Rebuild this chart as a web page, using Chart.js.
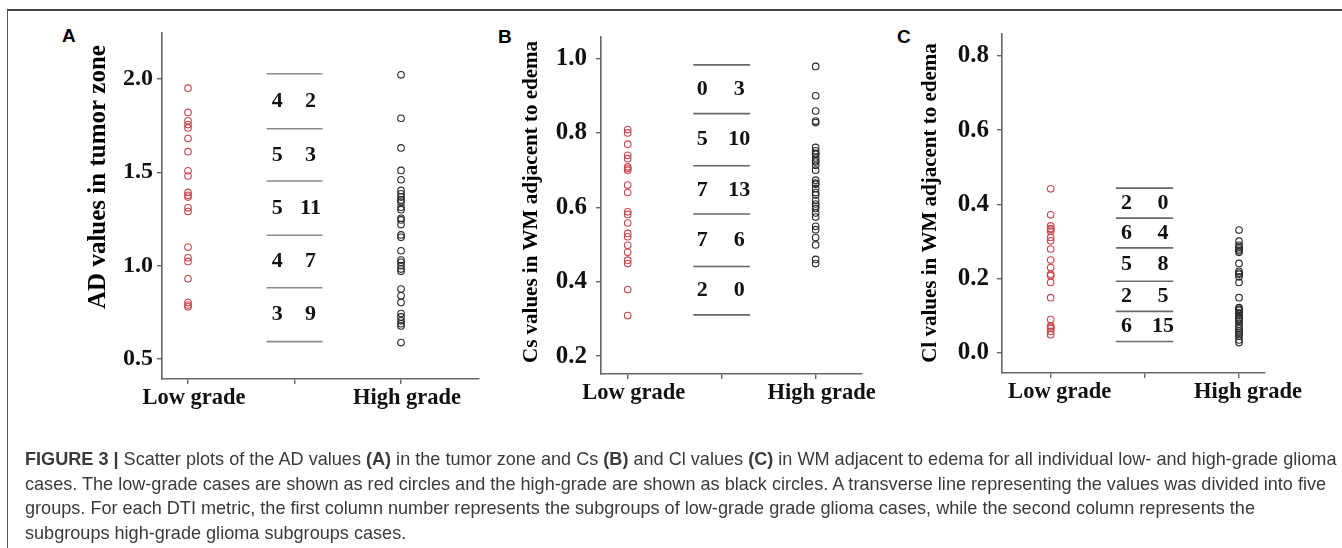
<!DOCTYPE html>
<html><head><meta charset="utf-8">
<script src="https://cdn.jsdelivr.net/npm/chart.js@4.4.1/dist/chart.umd.min.js"></script>
<style>
html,body{margin:0;padding:0;background:#fff;}
body{width:1342px;height:548px;position:relative;overflow:hidden;font-family:'Liberation Sans',Arial,sans-serif;}
canvas{position:absolute;left:0;top:0;pointer-events:none;}
#frame{position:absolute;left:7px;top:9px;width:1400px;height:600px;border-left:1.5px solid #555;border-top:2px solid #444;}
.lbl{position:absolute;font:bold 19px 'Liberation Sans',Arial,sans-serif;line-height:19px;color:#000;}
#caption{position:absolute;left:25px;top:447px;color:#3a3a3a;white-space:nowrap;font-size:16px;}
#caption div{line-height:24.5px;}
#caption span.l{display:inline-block;}
</style></head><body>
<div id="frame"></div>
<div class="lbl" style="left:62px;top:26px;">A</div>
<div class="lbl" style="left:498px;top:27px;">B</div>
<div class="lbl" style="left:897px;top:27px;">C</div>
<canvas id="cA" width="1342" height="548"></canvas>
<canvas id="cB" width="1342" height="548"></canvas>
<canvas id="cC" width="1342" height="548"></canvas>
<div id="caption">
<div><span class="l" id="line1"><b>FIGURE 3 |</b> Scatter plots of the AD values <b>(A)</b> in the tumor zone and Cs <b>(B)</b> and Cl values <b>(C)</b> in WM adjacent to edema for all individual low- and high-grade glioma</span></div>
<div>cases. The low-grade cases are shown as red circles and the high-grade are shown as black circles. A transverse line representing the values was divided into five</div>
<div>groups. For each DTI metric, the first column number represents the subgroups of low-grade grade glioma cases, while the second column represents the</div>
<div>subgroups high-grade glioma subgroups cases.</div>
</div>
<script>
// ---------------- DATA ----------------
const categories = ["Low grade", "", "High grade"];

// Panel A: AD values in tumor zone
const adTitle = "AD values in tumor zone";
const adTicks = [0.5, 1.0, 1.5, 2.0];
const adLow = [1.95, 1.82, 1.775, 1.755, 1.737, 1.68, 1.61, 1.508, 1.48, 1.392, 1.377, 1.367, 1.31, 1.29, 1.10, 1.042, 1.023, 0.93, 0.803, 0.79, 0.78];
const adHigh = [2.021, 1.789, 1.63, 1.51, 1.46, 1.403, 1.385, 1.367, 1.352, 1.34, 1.313, 1.30, 1.254, 1.245, 1.22, 1.165, 1.152, 1.08, 1.03, 1.018, 1.00, 0.982, 0.97, 0.875, 0.839, 0.803, 0.744, 0.726, 0.705, 0.69, 0.678, 0.589];
const adBounds = [2.027, 1.733, 1.453, 1.163, 0.882, 0.594];
const adLowCounts = [4, 5, 5, 4, 3];
const adHighCounts = [2, 3, 11, 7, 9];

// Panel B: Cs values in WM adjacent to edema
const csTitle = "Cs values in WM adjacent to edema";
const csTicks = [0.2, 0.4, 0.6, 0.8, 1.0];
const csLow = [0.809, 0.80, 0.77, 0.74, 0.731, 0.709, 0.705, 0.70, 0.66, 0.64, 0.588, 0.581, 0.558, 0.53, 0.521, 0.498, 0.479, 0.458, 0.449, 0.379, 0.309];
const csHigh = [0.979, 0.90, 0.859, 0.832, 0.828, 0.761, 0.752, 0.745, 0.743, 0.733, 0.725, 0.722, 0.713, 0.70, 0.673, 0.665, 0.662, 0.651, 0.64, 0.633, 0.619, 0.609, 0.603, 0.597, 0.585, 0.574, 0.549, 0.54, 0.519, 0.499, 0.46, 0.449];
const csBounds = [0.983, 0.852, 0.712, 0.582, 0.441, 0.311];
const csLowCounts = [0, 5, 7, 7, 2];
const csHighCounts = [3, 10, 13, 6, 0];

// Panel C: Cl values in WM adjacent to edema
const clTitle = "Cl values in WM adjacent to edema";
const clTicks = [0.0, 0.2, 0.4, 0.6, 0.8];
const clLow = [0.442, 0.372, 0.342, 0.335, 0.333, 0.328, 0.311, 0.302, 0.28, 0.25, 0.23, 0.212, 0.208, 0.19, 0.149, 0.09, 0.073, 0.07, 0.066, 0.058, 0.049];
const clHigh = [0.331, 0.301, 0.29, 0.285, 0.28, 0.275, 0.271, 0.241, 0.22, 0.215, 0.212, 0.205, 0.19, 0.149, 0.122, 0.118, 0.115, 0.109, 0.105, 0.10, 0.095, 0.09, 0.085, 0.077, 0.07, 0.065, 0.059, 0.055, 0.049, 0.045, 0.035, 0.028];
const clBounds = [0.444, 0.363, 0.283, 0.193, 0.112, 0.031];
const clLowCounts = [2, 6, 5, 2, 6];
const clHighCounts = [0, 4, 8, 5, 15];

// ---------------- LAYOUT / STYLE ----------------
const SERIF = "'Liberation Serif', 'Times New Roman', serif";
const RED = '#c8474f', BLACK = '#2a2a2a', AXIS = '#666';
const Y_W = 70, X_H = 40, W = 1342, H = 548;

const panels = [
  {id:'cA', title:adTitle, ticks:adTicks, low:adLow, high:adHigh, bounds:adBounds, lowCounts:adLowCounts, highCounts:adHighCounts,
   left:162, right:479, top:33, bottom:379, xMin:0.756, xMax:3.732, yMin:0.394, yMax:2.245,
   rule:[-0.263, 0.263], numDx:[-0.162, 0.150], tickPad:4, titleX:99, titleY:177, titleSize:25, tickSize:24, labelOffset:6, ruleColor:'#8a8a8a'},
  {id:'cB', title:csTitle, ticks:csTicks, low:csLow, high:csHigh, bounds:csBounds, lowCounts:csLowCounts, highCounts:csHighCounts,
   left:601, right:862, top:37, bottom:374, xMin:0.716, xMax:3.493, yMin:0.152, yMax:1.058,
   rule:[-0.302, 0.301], numDx:[-0.206, 0.187], tickPad:9, titleX:532, titleY:202, titleSize:21, tickSize:25, labelOffset:6, ruleColor:'#666'},
  {id:'cC', title:clTitle, ticks:clTicks, low:clLow, high:clHigh, bounds:clBounds, lowCounts:clLowCounts, highCounts:clHighCounts,
   left:1002, right:1265, top:34, bottom:373, xMin:0.483, xMax:3.276, yMin:-0.054, yMax:0.859,
   rule:[-0.308, 0.301], numDx:[-0.195, 0.194], tickPad:8, titleX:931, titleY:203, titleSize:21, tickSize:25, labelOffset:9, ruleColor:'#6a6a6a'}
];

const panelText = {
  id: 'panelText',
  afterDatasetsDraw(chart, args, o) {
    const ctx = chart.ctx, x = chart.scales.x, y = chart.scales.y;
    ctx.save();
    ctx.fillStyle = '#111';
    ctx.font = `bold ${o.numSize}px ${SERIF}`;
    ctx.textAlign = 'center';
    ctx.textBaseline = 'middle';
    o.lowCounts.forEach((n, i) => {
      const py = y.getPixelForValue((o.bounds[i] + o.bounds[i + 1]) / 2);
      ctx.fillText(String(n), x.getPixelForValue(2 + o.numDx[0]), py);
      ctx.fillText(String(o.highCounts[i]), x.getPixelForValue(2 + o.numDx[1]), py);
    });
    ctx.font = `bold ${o.titleSize}px ${SERIF}`;
    ctx.fillStyle = '#000';
    ctx.translate(o.titleX, o.titleY);
    ctx.rotate(-Math.PI / 2);
    ctx.fillText(o.title, 0, 0);
    ctx.restore();
  }
};

function pts(vals, cat) { return vals.map(v => ({x: cat, y: v})); }

panels.forEach(p => {
  const ruleSets = p.bounds.map(b => ({
    data: [{x: 2 + p.rule[0], y: b}, {x: 2 + p.rule[1], y: b}],
    showLine: true, borderColor: p.ruleColor, borderWidth: 1.6, pointRadius: 0, fill: false
  }));
  new Chart(document.getElementById(p.id), {
    type: 'scatter',
    data: {
      datasets: [
        {data: pts(p.low, 1), borderColor: RED, backgroundColor: 'rgba(0,0,0,0)', pointRadius: 3.3, borderWidth: 1.1},
        {data: pts(p.high, 3), borderColor: BLACK, backgroundColor: 'rgba(0,0,0,0)', pointRadius: 3.3, borderWidth: 1.1},
        ...ruleSets
      ]
    },
    options: {
      responsive: false, animation: false, devicePixelRatio: 1,
      layout: {padding: {left: p.left - Y_W, top: p.top, right: W - p.right, bottom: H - p.bottom - X_H}},
      plugins: {
        legend: {display: false}, tooltip: {enabled: false},
        panelText: {lowCounts: p.lowCounts, highCounts: p.highCounts, bounds: p.bounds, numDx: p.numDx,
                    numSize: 22, title: p.title, titleX: p.titleX, titleY: p.titleY, titleSize: p.titleSize}
      },
      scales: {
        x: {
          type: 'linear', min: p.xMin, max: p.xMax,
          afterBuildTicks: s => { s.ticks = [1, 2, 3].map(v => ({value: v})); },
          afterFit: s => { s.height = X_H; },
          border: {display: true, color: AXIS, width: 1.6},
          grid: {display: true, drawOnChartArea: false, drawTicks: true, tickLength: 5, color: AXIS, lineWidth: 1.4},
          ticks: {autoSkip: false, maxRotation: 0, padding: 1, labelOffset: p.labelOffset, color: '#111',
                  font: {family: SERIF, weight: 'bold', size: 22.5},
                  callback: (v, i) => categories[i]}
        },
        y: {
          type: 'linear', min: p.yMin, max: p.yMax,
          afterBuildTicks: s => { s.ticks = p.ticks.map(v => ({value: v})); },
          afterFit: s => { s.width = Y_W; },
          border: {display: true, color: AXIS, width: 1.6},
          grid: {display: true, drawOnChartArea: false, drawTicks: true, tickLength: 5, color: AXIS, lineWidth: 1.4},
          ticks: {padding: p.tickPad, color: '#111', font: {family: SERIF, weight: 'bold', size: p.tickSize},
                  callback: v => Number(v).toFixed(1)}
        }
      }
    },
    plugins: [panelText]
  });
});

// fit caption font so first line spans the measured width
(function () {
  const cap = document.getElementById('caption');
  const l1 = document.getElementById('line1');
  const w = l1.getBoundingClientRect().width;
  cap.style.fontSize = (16 * 1312 / w).toFixed(2) + 'px';
})();
</script>
</body></html>
